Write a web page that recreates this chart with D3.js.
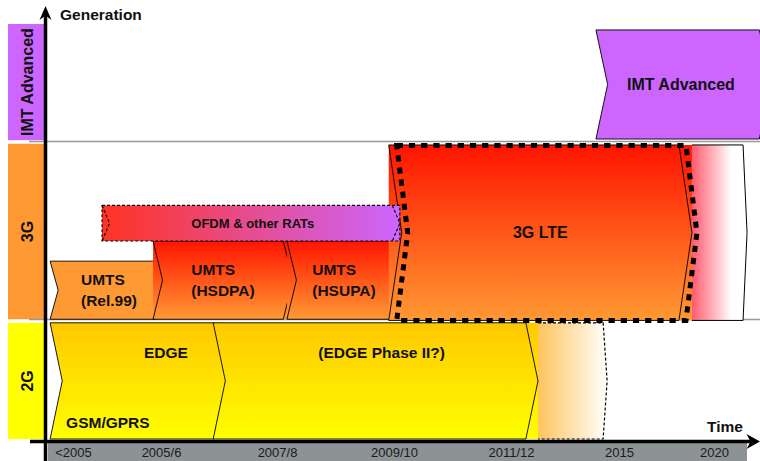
<!DOCTYPE html>
<html>
<head>
<meta charset="utf-8">
<script src="https://cdn.jsdelivr.net/npm/d3@7"></script>
<style>
  html, body { margin: 0; padding: 0; background: #fff; }
  svg { display: block; font-family: "Liberation Sans", Arial, sans-serif; }
</style>
</head>
<body>
<svg id="chart" width="760" height="461"></svg>
<script>
// Periods along the time axis and the year each one stands for
const periodYears  = [2004, 2006, 2008, 2010, 2012, 2015, 2020];
const periodLabels = ["<2005", "2005/6", "2007/8", "2009/10", "2011/12", "2015", "2020"];

// Generation rows, bottom to top, in row units
const generations    = ["2G", "3G", "IMT Advanced"];
const generationFrom = [0, 1.01, 2.52];
const generationTo   = [0.98, 2.49, 3.5];
const rowBoundaries  = [1, 2.5];

// Radio technologies: label lines, start / end year, row extent
const techLabels  = [["GSM/GPRS"], ["(EDGE Phase II?)"], ["UMTS", "(Rel.99)"], ["UMTS", "(HSDPA)"],
                     ["UMTS", "(HSUPA)"], ["OFDM & other RATs"], ["3G LTE"], ["IMT Advanced"]];
const techUpgrade = ["EDGE", "", "", "", "", "", "", ""];
const techStart   = [2003.48, 2006.9, 2003.48, 2005.82, 2008.17, 2004.66, 2009.91, 2014.36];
const techEnd     = [2007.12, 2012.75, 2006.05, 2008.27, 2010.12, 2010.1, 2018.84, 2023];
const techLow     = [0, 0, 1.01, 1.01, 1.01, 1.67, 1.0, 2.53];
const techHigh    = [0.98, 0.98, 1.5, 1.67, 1.67, 1.97, 2.48, 3.45];

// Fading outlook beyond the last known technology of a row
const fadeStart = [2012.75, 2018.84];
const fadeEnd   = [2014.67, 2021.74];
const fadeLow   = [0, 1.0];
const fadeHigh  = [0.98, 2.48];

const W = 760, H = 461;
const svg = d3.select("#chart");
const defs = svg.append("defs");

function linGrad(id, x2, y2, stops) {
  const g = defs.append("linearGradient").attr("id", id)
    .attr("x1", 0).attr("y1", 0).attr("x2", x2).attr("y2", y2);
  stops.forEach(([o, c]) => g.append("stop").attr("offset", o).attr("stop-color", c));
}
linGrad("gYellow", 0, 1, [[0, "#ffc800"], [1, "#ffff00"]]);
linGrad("gRed",    0, 1, [[0, "#ff1400"], [1, "#ff9933"]]);
linGrad("gOfdm",   1, 0, [[0, "#ff3322"], [1, "#cc66ff"]]);
linGrad("gFade0",  1, 0, [[0, "#ffc45c"], [1, "#ffffff"]]);
linGrad("gFade1",  1, 0, [[0, "#ff5a6e"], [0.72, "#ffffff"], [1, "#ffffff"]]);

const generationFill = { "2G": "#ffff00", "3G": "#ff9933", "IMT Advanced": "#cc66ff" };
const techFill = ["url(#gYellow)", "url(#gYellow)", "#ff9933", "url(#gRed)", "url(#gRed)",
                  "url(#gOfdm)", "url(#gRed)", "#cc66ff"];
const plannedTech = "OFDM & other RATs";

// Scales
const x = d3.scaleLinear().domain(periodYears).range([73, 161, 277, 394, 511, 619, 714]);
const y = d3.scaleLinear().domain([0, 3.5]).range([439, 24]);

// Generation labels on the left
const band = svg.append("g");
generations.forEach((g, i) => {
  const top = y(generationTo[i]), bot = y(generationFrom[i]);
  band.append("rect").attr("x", 8).attr("width", 36)
    .attr("y", top).attr("height", bot - top).attr("fill", generationFill[g]);
  band.append("text")
    .attr("transform", `translate(27,${(top + bot) / 2}) rotate(-90)`)
    .attr("text-anchor", "middle").attr("dominant-baseline", "central")
    .attr("font-size", 16).attr("font-weight", "bold").attr("fill", "#111")
    .text(g);
});

// Row separators
svg.append("g").selectAll("line").data(rowBoundaries).join("line")
  .attr("x1", 29).attr("x2", W)
  .attr("y1", d => y(d) - 1).attr("y2", d => y(d) - 1)
  .attr("stroke", "#999").attr("stroke-width", 1.6);

// Geometry helpers
const depthFor = h => Math.min(13, 4 + h * 0.07);
function chevron(x0, x1, t, b, d) {
  const m = (t + b) / 2;
  return `M${x0},${t}L${x1 - d},${t}L${x1},${m}L${x1 - d},${b}L${x0},${b}L${x0 + d},${m}Z`;
}

// Fading outlooks (drawn behind)
const fades = svg.append("g");
fadeStart.forEach((s, i) => {
  const x0 = x(s), x1 = x(fadeEnd[i]), t = y(fadeHigh[i]), b = y(fadeLow[i]);
  const m = (t + b) / 2, d = 4;
  fades.append("path")
    .attr("d", `M${x0},${t}L${x1 - d},${t}L${x1},${m}L${x1 - d},${b}L${x0},${b}Z`)
    .attr("fill", `url(#gFade${i})`);
  fades.append("path")
    .attr("d", `M${x0},${t}L${x1 - d},${t}L${x1},${m}L${x1 - d},${b}L${x0},${b}`)
    .attr("fill", "none").attr("stroke", "#000").attr("stroke-width", i === 0 ? 1.2 : 1)
    .attr("stroke-dasharray", i === 0 ? "3 2" : null);
});

// A technology is notched on its left when nothing in its row runs underneath its start
function isNotched(i) {
  return !techStart.some((s, j) => j !== i &&
    s < techStart[i] && techEnd[j] > techStart[i] &&
    techLow[j] < techHigh[i] && techHigh[j] > techLow[i]);
}

const order = [0, 1, 2, 3, 4, 6, 5, 7];
const techG = svg.append("g");
const labelG = svg.append("g").attr("font-weight", "bold").attr("fill", "#111");

order.forEach(i => {
  const x0 = x(techStart[i]), x1 = x(techEnd[i]);
  const t = y(techHigh[i]), b = y(techLow[i]), h = b - t, m = (t + b) / 2;
  const planned = techLabels[i].join(" ") === plannedTech;
  const d = planned ? 7.5 : depthFor(h);
  const notched = isNotched(i);

  if (planned) {
    techG.append("rect").attr("x", x0).attr("y", t).attr("width", x1 - x0).attr("height", h)
      .attr("fill", techFill[i]).attr("stroke", "#000").attr("stroke-width", 1.1)
      .attr("stroke-dasharray", "3 2");
    techG.append("path")
      .attr("d", `M${x0},${t}L${x0 + d},${m}L${x0},${b}M${x1 - d},${t}L${x1},${m}L${x1 - d},${b}`)
      .attr("fill", "none").attr("stroke", "#000").attr("stroke-width", 1.1)
      .attr("stroke-dasharray", "3 2");
  } else {
    const fillPath = notched
      ? `M${x0},${t}L${x1},${t}L${x1},${b}L${x0},${b}L${x0 + d},${m}Z`
      : `M${x0},${t}L${x1},${t}L${x1},${b}L${x0},${b}Z`;
    techG.append("path").attr("d", fillPath).attr("fill", techFill[i]);
    techG.append("path").attr("d", chevron(x0, x1, t, b, d))
      .attr("fill", "none").attr("stroke", "#000").attr("stroke-width", 0.9);
  }

  // Labels
  const fs = h < 50 ? 13 : (h > 100 && techLow[i] > 0 ? 16 : 15.5);
  const lines = techLabels[i];
  if (techLow[i] === 0) {
    const ly = t + 30;
    if (techUpgrade[i]) {
      labelG.append("text").attr("x", x0 + 16).attr("y", b - 17)
        .attr("dominant-baseline", "central").attr("font-size", fs).text(lines[0]);
      labelG.append("text").attr("x", x1 - 60).attr("y", ly)
        .attr("text-anchor", "middle").attr("dominant-baseline", "central")
        .attr("font-size", fs).text(techUpgrade[i]);
    } else {
      labelG.append("text").attr("x", (x0 + d + x1) / 2).attr("y", ly)
        .attr("text-anchor", "middle").attr("dominant-baseline", "central")
        .attr("font-size", fs).text(lines[0]);
    }
  } else {
    const cx = ((notched ? x0 + d / 2 : x0) + Math.min(x1, W)) / 2;
    const lh = 21;
    const texts = lines.map((ln, k) => labelG.append("text")
      .attr("y", m + (k - (lines.length - 1) / 2) * lh)
      .attr("dominant-baseline", "central").attr("font-size", fs).text(ln));
    const maxW = d3.max(texts, tx => tx.node().getComputedTextLength());
    texts.forEach(tx => tx.attr("x", cx - maxW / 2));
  }
});

// Dotted frame around the 3G LTE block
{
  const i = 6;
  const x0 = x(techStart[i]) + 8, x1 = x(techEnd[i]) + 5;
  const t = y(techHigh[i]) + 0.5, b = y(techLow[i]);
  svg.append("path").attr("d", chevron(x0, x1, t, b, 11))
    .attr("fill", "none").attr("stroke", "#000").attr("stroke-width", 5)
    .attr("stroke-dasharray", "6.2 6");
}
labelG.raise();

// Bottom period band and axis
svg.append("rect").attr("x", 48).attr("y", 443).attr("width", 699).attr("height", 18)
  .attr("fill", "#8d9294");
const axisG = svg.append("g").attr("transform", "translate(0,443)")
  .call(d3.axisBottom(x).tickValues(periodYears)
    .tickFormat((d, k) => periodLabels[k]).tickSize(0).tickPadding(4.5));
axisG.select(".domain").remove();
axisG.selectAll("text").attr("font-size", 13).attr("fill", "#1a1a1a")
  .attr("font-family", "'Liberation Sans', Arial, sans-serif");

// Axis lines with arrowheads
svg.append("line").attr("x1", 30).attr("x2", 752).attr("y1", 441.5).attr("y2", 441.5)
  .attr("stroke", "#000").attr("stroke-width", 3.5);
svg.append("path").attr("d", "M760,441.5L746.5,434L750.5,441.5L746.5,449Z").attr("fill", "#000");
svg.append("line").attr("x1", 45.5).attr("x2", 45.5).attr("y1", 14).attr("y2", H)
  .attr("stroke", "#000").attr("stroke-width", 3.5);
svg.append("path").attr("d", "M45.5,6L39.5,20L45.5,15.5L51.5,20Z").attr("fill", "#000");

// Axis titles
svg.append("text").attr("x", 60).attr("y", 20).attr("font-size", 15.5)
  .attr("font-weight", "bold").attr("fill", "#111").text("Generation");
svg.append("text").attr("x", 743).attr("y", 432).attr("text-anchor", "end")
  .attr("font-size", 15.5).attr("font-weight", "bold").attr("fill", "#111").text("Time");
</script>
</body>
</html>
